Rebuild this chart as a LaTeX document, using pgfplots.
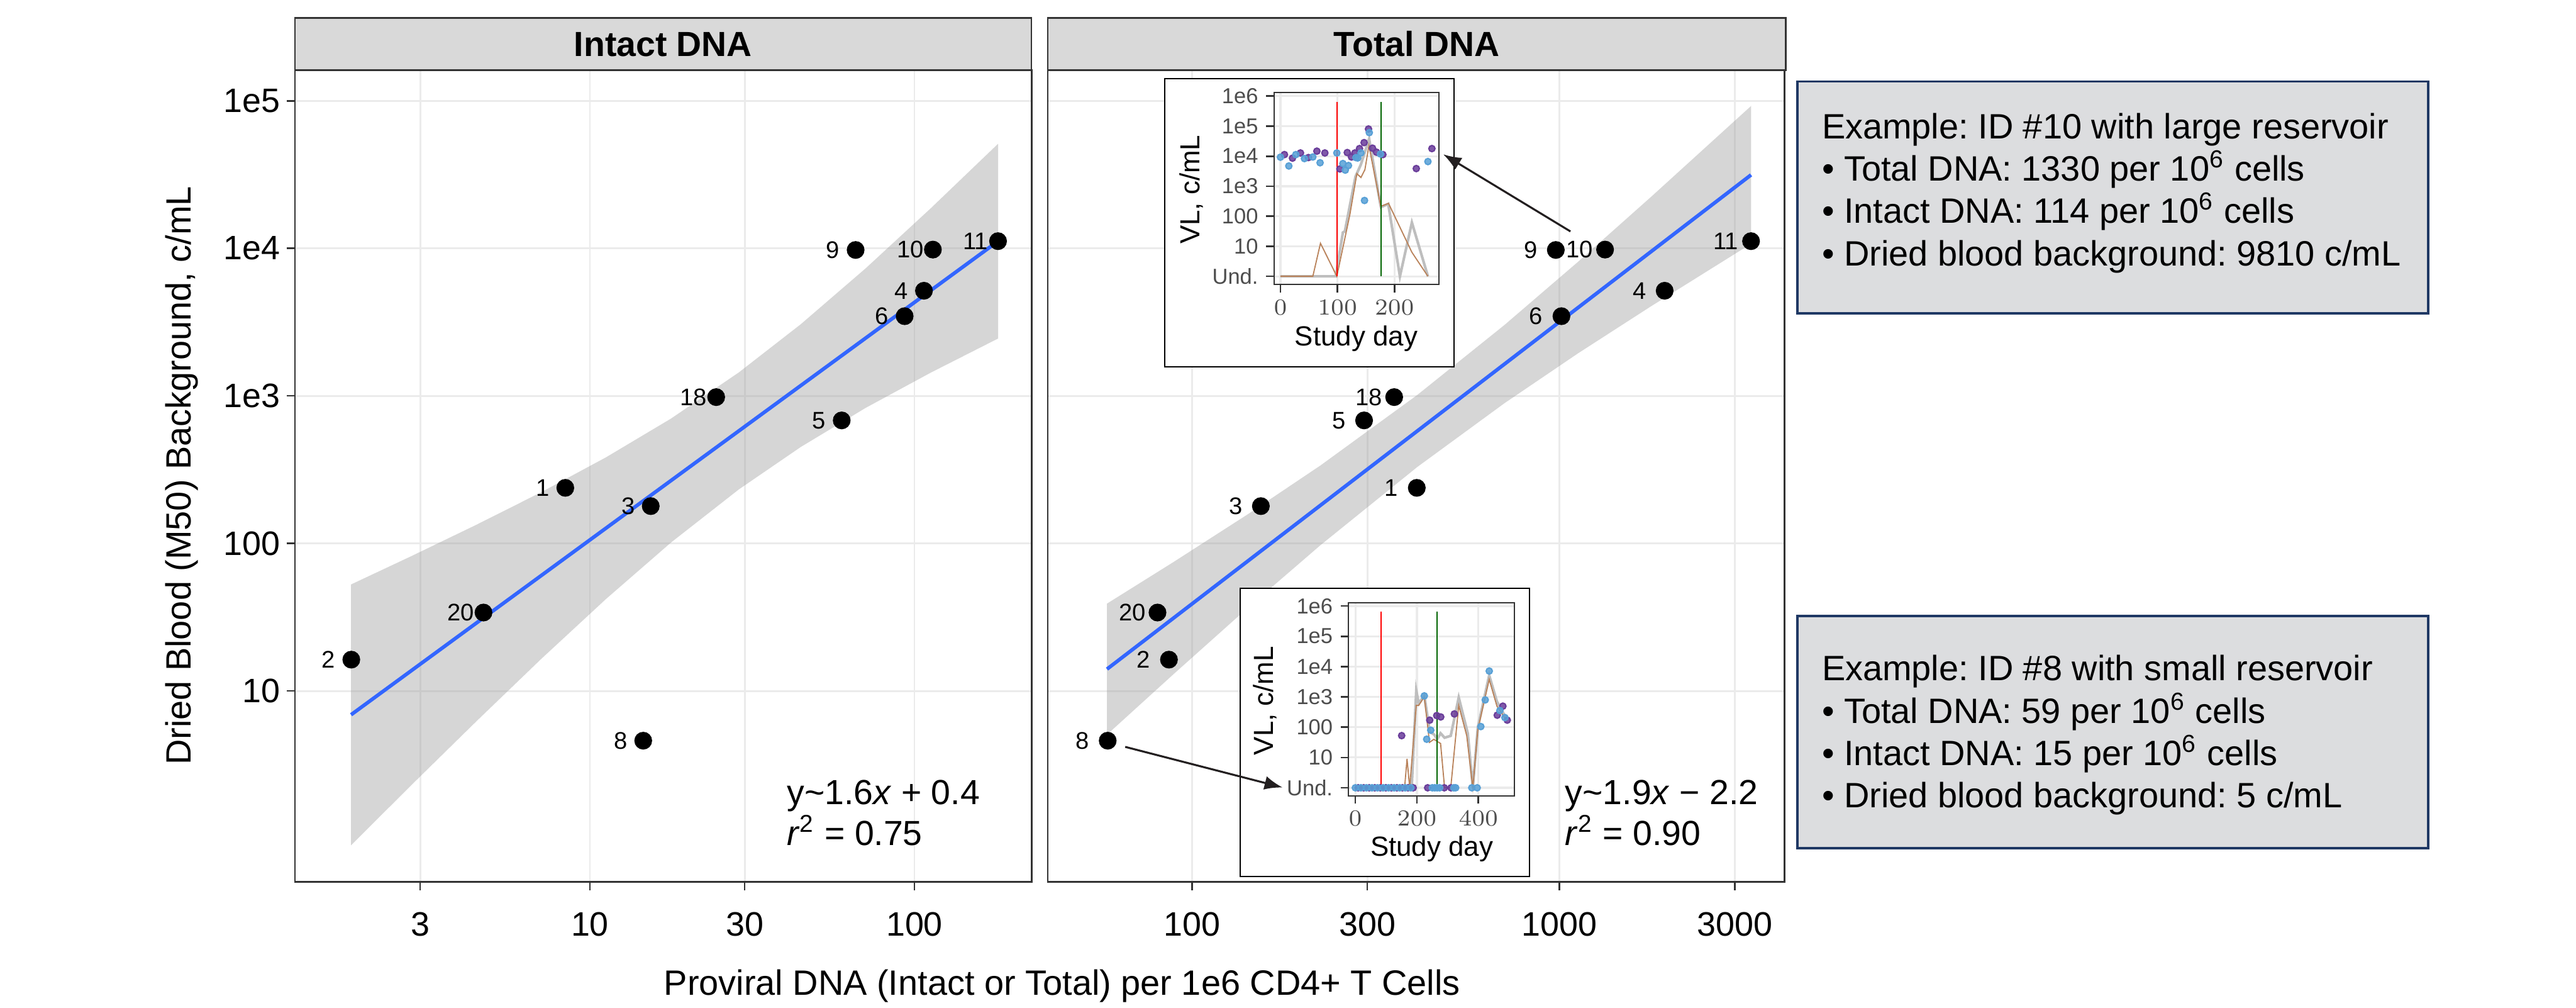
\documentclass[border=0pt]{standalone}
\usepackage{fontspec}
\setmainfont{Liberation Sans}
\usepackage{pgfplots}
\usepackage{pgfplotstable}
\pgfplotsset{compat=1.18}
\usetikzlibrary{arrows.meta}

\definecolor{gridc}{RGB}{235,235,235}
\definecolor{framec}{RGB}{51,51,51}
\definecolor{stripc}{RGB}{217,217,217}
\definecolor{bandc}{RGB}{153,153,153}
\definecolor{fitc}{RGB}{51,102,255}
\definecolor{boxfill}{RGB}{220,221,223}
\definecolor{boxline}{RGB}{31,56,100}
\definecolor{vlblue}{RGB}{88,160,214}
\definecolor{vlpurple}{RGB}{106,61,154}
\definecolor{vlbrown}{RGB}{185,130,90}
\definecolor{vlgray}{RGB}{190,190,190}
\definecolor{darkgreen}{RGB}{0,100,0}
\definecolor{tickc}{RGB}{77,77,77}
\definecolor{arrowc}{RGB}{35,31,32}

% points: proviral DNA vs dried blood background
\pgfplotstableread{
x y id
1.84 16.3 2
4.70 34.0 20
8.40 238 1
15.4 179 3
14.6 4.6 8
24.5 981 18
59.7 682 5
65.9 9750 9
114 9810 10
107 5160 4
93.3 3470 6
181 11190 11
}\intact

\pgfplotstableread{
x y id
59 4.6 8
80.6 34.0 20
86.6 16.3 2
154 179 3
294 682 5
355 981 18
409 238 1
977 9750 9
1330 9810 10
1012 3470 6
1932 5160 4
3319 11190 11
}\total

% confidence bands (upper edge, then lower edge back)
\pgfplotstableread{
x y
1.837 52.7
2.818 82.0
4.467 133.7
7.079 222.3
11.22 383.7
17.78 701.5
28.77 1442
44.67 3062
70.79 7328
112.2 18660
181.1 51170
181.1 2449
112.2 1436
70.79 829.8
44.67 450.8
28.77 232.3
17.78 101.4
11.22 42.07
7.079 16.48
4.467 6.22
2.818 2.301
1.837 0.899
}\bandI

\pgfplotstableread{
x y
58.75 39.08
89.13 74.82
141.3 156.5
223.9 338.1
410.2 1014
707.9 3020
1122 8091
1778 22440
3319 92250
3319 10740
1778 4064
1122 1941
707.9 891.3
410.2 329.6
223.9 97.5
141.3 36.27
89.13 13.00
58.75 5.058
}\bandT

% inset: ID 10
\pgfplotstableread{
x y
0 1
97 1
109.5 28.8
113 31.6
131.6 2090
141 5250
155.5 38000
176 200
189 257
209.5 1
230.5 61.7
258.6 1
}\aGray
\pgfplotstableread{
x y
0 1
56.8 1
70.2 12.6
98.9 1
121.8 115
134 2630
141.1 1950
148.1 3550
155.1 22400
176 214
189.5 269
230.5 6.3
258.6 1
}\aBrown
\pgfplotstableread{
x y
7.0 11300
21.1 8600
35.1 12800
49.1 9000
63.9 14700
77.9 12800
104.2 3760
117.2 13200
124.6 9400
130.5 12800
138.6 17900
146.7 28300
154.4 80200
161.4 18500
168.4 13600
179.6 11300
238.2 3870
265.6 17900
}\aPurple
\pgfplotstableread{
x y
0 9270
14.7 4720
27.0 11300
42.1 8320
56.8 9400
69.5 6040
98.9 12800
109.5 5680
113.7 3430
119.3 4880
132.3 8970
135.5 8710
141.1 12800
147.4 335
155.8 60800
175.4 11800
258.6 6620
}\aBlue

% inset: ID 8
\pgfplotstableread{
x y
0 1
183 1
198 1620
205.9 603
224.1 1120
241.7 70.8
257 56.2
266 40
277 63
290 45
310 52
336 955
365.5 61.7
381.8 1
398 97.7
435 5130
460 708
492.5 178
}\bGray
\pgfplotstableread{
x y
0 1
160 1
168 9.1
176.5 1
198 525
206 525
224 1000
241 31.6
255 39.8
277 29
290 1
310 1
336 525
362 52.5
381.8 1
398 83
435 3800
460 500
492.5 158
}\bBrown
\pgfplotstableread{
x y
9 1
27 1
45 1
63 1
81 1
99 1
117 1
135 1
153 1
171 1
188 1
235 1
289 1
311 1
150.5 52.7
241.7 171
264.5 242
277.5 218
321.8 274
461.2 249
479.5 495
493.8 171
}\bPurple
\pgfplotstableread{
x y
0 1
18 1
36 1
54 1
72 1
90 1
108 1
126 1
144 1
162 1
180 1
250 1
258 1
266 1
274 1
320 1
326 1
378.5 1
396 1
224.1 1080
231.9 40.1
245.0 79.6
407.8 105
422.1 796
435.2 7140
469.7 355
486.0 208
}\bBlue

\begin{document}
\frenchspacing
\begin{tikzpicture}

% Intact DNA panel
\begin{axis}[at={(89.75pt,-268.3pt)}, anchor=south west,
  scale only axis, width=224.2pt, height=247pt,
  xmode=log, ymode=log, ymin=0.507, ymax=161800,
  xmin=1.233, xmax=229.6,
  axis line style={framec, line width=0.5pt},
  grid=major, grid style={gridc, line width=0.55pt},
  tick align=outside, major tick length=2.5pt,
  tick style={framec, line width=0.5pt},
  minor tick num=0, minor tick style={draw=none},
  xtick pos=left, ytick pos=left,
  xtick={3,10,30,100}, xticklabels={3,10,30,100},
  ytick={10,100,1000,10000,100000}, yticklabels={10,100,1e3,1e4,1e5},
  tick label style={font=\fontsize{10.3}{12}\selectfont, text=black, inner sep=0pt},
  xticklabel style={yshift=-6.5pt},
  yticklabel style={xshift=-1.8pt}]
\addplot[draw=none, fill=bandc, fill opacity=0.4] table {\bandI};
\addplot[fitc, line width=1.1pt] coordinates {(1.837,6.895) (181.1,11194)};
\addplot[only marks, mark=*, mark size=2.5pt, black,
  nodes near coords, point meta=explicit symbolic,
  every node near coord/.append style={anchor=center, inner sep=0pt, xshift=-6.9pt,
    font=\fontsize{7.3}{8}\selectfont, text=black}]
  table[meta=id] {\intact};
\end{axis}

% Total DNA panel
\begin{axis}[at={(318.9pt,-268.3pt)}, anchor=south west,
  scale only axis, width=224.2pt, height=247pt,
  xmode=log, ymode=log, ymin=0.507, ymax=161800,
  xmin=40.55, xmax=4093,
  axis line style={framec, line width=0.5pt},
  grid=major, grid style={gridc, line width=0.55pt},
  tick align=outside, major tick length=2.5pt,
  tick style={framec, line width=0.5pt},
  minor tick num=0, minor tick style={draw=none},
  xtick pos=left, ytick pos=left,
  xtick={100,300,1000,3000}, xticklabels={100,300,1000,3000},
  ytick={10,100,1000,10000,100000}, yticklabels={},
  ytick style={draw=none},
  tick label style={font=\fontsize{10.3}{12}\selectfont, text=black, inner sep=0pt},
  xticklabel style={yshift=-6.5pt}]
\addplot[draw=none, fill=bandc, fill opacity=0.4] table {\bandT};
\addplot[fitc, line width=1.1pt] coordinates {(58.75,14.06) (3319,31480)};
\addplot[only marks, mark=*, mark size=2.5pt, black,
  nodes near coords, point meta=explicit symbolic,
  every node near coord/.append style={anchor=center, inner sep=0pt, xshift=-7.7pt,
    font=\fontsize{7.3}{8}\selectfont, text=black}]
  table[meta=id] {\total};
\end{axis}

\begin{scope}[x=0.5pt, y=-0.5pt]
% facet strips
\draw[framec, line width=0.5pt, fill=stripc] (179.5,11) rectangle (627.8,42.6);
\draw[framec, line width=0.5pt, fill=stripc] (637.8,11) rectangle (1086.9,42.6);
\node[anchor=base, font=\fontsize{10.6}{12}\selectfont\bfseries] at (403.6,34.4) {Intact DNA};
\node[anchor=base, font=\fontsize{10.6}{12}\selectfont\bfseries] at (862.3,34.4) {Total DNA};

% axis titles
\node[rotate=90, anchor=base, font=\fontsize{10.7}{12}\selectfont] at (116.2,289.4) {Dried Blood (M50) Background, c/mL};
\node[anchor=base, font=\fontsize{10.7}{12}\selectfont] at (646.5,605.4) {Proviral DNA (Intact or Total) per 1e6 CD4+ T Cells};

% fit equations
\node[anchor=base west, font=\fontsize{10.6}{12}\selectfont] at (472,489.6) {y\textasciitilde 1.6\textit{x} + 0.4};
\node[anchor=base west, font=\fontsize{10.6}{12}\selectfont] at (472,514.3) {\textit{r}\textsuperscript{2} = 0.75};
\node[anchor=base west, font=\fontsize{10.6}{12}\selectfont] at (945.7,489.6) {y\textasciitilde 1.9\textit{x} − 2.2};
\node[anchor=base west, font=\fontsize{10.6}{12}\selectfont] at (945.7,514.3) {\textit{r}\textsuperscript{2} = 0.90};

% inset frames
\draw[black, line width=0.4pt, fill=white] (709.1,47.7) rectangle (885.1,223.3);
\draw[black, line width=0.4pt, fill=white] (754.9,357.8) rectangle (930.9,533.4);
\end{scope}

% inset: ID 10
\begin{axis}[at={(387.7pt,-86.6pt)}, anchor=south west,
  scale only axis, width=50.25pt, height=58.4pt,
  ymode=log, xmin=-11.5, xmax=278, ymin=0.527, ymax=1300000,
  axis line style={framec, line width=0.4pt},
  grid=major, grid style={gridc, line width=0.6pt},
  tick align=outside, major tick length=2.4pt,
  tick style={framec, line width=0.5pt},
  minor tick num=0, minor tick style={draw=none},
  xtick pos=left, ytick pos=left,
  xtick={0,100,200},
  ytick={1,10,100,1000,10000,100000,1000000},
  yticklabels={Und.,10,100,1e3,1e4,1e5,1e6},
  tick label style={font=\fontsize{6.6}{7}\selectfont, text=tickc, inner sep=0pt},
  xticklabel style={yshift=-2.1pt},
  yticklabel style={xshift=-2.2pt}]
\addplot[vlgray, line width=0.8pt] table {\aGray};
\addplot[vlbrown, line width=0.35pt] table {\aBrown};
\addplot[only marks, mark=*, mark size=0.95pt, vlpurple, mark options={draw=none, fill opacity=0.85}] table {\aPurple};
\addplot[only marks, mark=*, mark size=0.95pt, vlblue, mark options={draw=none, fill opacity=0.85}] table {\aBlue};
\addplot[red, line width=0.35pt] coordinates {(99,1) (99,646000)};
\addplot[darkgreen, line width=0.35pt] coordinates {(176.5,1) (176.5,646000)};
\end{axis}

% inset: ID 8
\begin{axis}[at={(410.4pt,-242.1pt)}, anchor=south west,
  scale only axis, width=50.5pt, height=58.65pt,
  ymode=log, xmin=-22.4, xmax=517, ymin=0.542, ymax=1253000,
  axis line style={framec, line width=0.4pt},
  grid=major, grid style={gridc, line width=0.6pt},
  tick align=outside, major tick length=2.4pt,
  tick style={framec, line width=0.5pt},
  minor tick num=0, minor tick style={draw=none},
  xtick pos=left, ytick pos=left,
  xtick={0,200,400},
  ytick={1,10,100,1000,10000,100000,1000000},
  yticklabels={Und.,10,100,1e3,1e4,1e5,1e6},
  tick label style={font=\fontsize{6.6}{7}\selectfont, text=tickc, inner sep=0pt},
  xticklabel style={yshift=-2.1pt},
  yticklabel style={xshift=-2.2pt}]
\addplot[vlgray, line width=0.8pt] table {\bGray};
\addplot[vlbrown, line width=0.35pt] table {\bBrown};
\addplot[only marks, mark=*, mark size=0.95pt, vlpurple, mark options={draw=none, fill opacity=0.85}] table {\bPurple};
\addplot[only marks, mark=*, mark size=0.95pt, vlblue, mark options={draw=none, fill opacity=0.85}] table {\bBlue};
\addplot[red, line width=0.35pt] coordinates {(84,1) (84,646000)};
\addplot[darkgreen, line width=0.35pt] coordinates {(266,1) (266,646000)};
\end{axis}

\begin{scope}[x=0.5pt, y=-0.5pt]
\node[rotate=90, font=\fontsize{8.4}{10}\selectfont] at (725.1,115.3) {VL, c/mL};
\node[font=\fontsize{8.4}{10}\selectfont] at (825.5,206.1) {Study day};
\node[rotate=90, font=\fontsize{8.4}{10}\selectfont] at (770,426.3) {VL, c/mL};
\node[font=\fontsize{8.4}{10}\selectfont] at (871.5,516.5) {Study day};

% arrows to insets
\draw[arrowc, line width=0.6pt, -{Latex[length=5.5pt, width=4.2pt]}] (955.9,140.8) -- (878.5,93.9);
\draw[arrowc, line width=0.6pt, -{Latex[length=5.5pt, width=4.2pt]}] (684.9,454.4) -- (780.7,479.1);

% example boxes
\draw[boxline, line width=0.7pt, fill=boxfill] (1094,49.6) rectangle (1478,190.6);
\draw[boxline, line width=0.7pt, fill=boxfill] (1094,374.8) rectangle (1478,516.1);
\begin{scope}[every node/.style={anchor=base west, inner sep=0pt, font=\fontsize{10.7}{12}\selectfont}]
\node at (1108.6,84.3) {Example: ID \#10 with large reservoir};
\node at (1108.6,109.9) {• Total DNA: 1330 per 10\textsuperscript{6} cells};
\node at (1108.6,135.8) {• Intact DNA: 114 per 10\textsuperscript{6} cells};
\node at (1108.6,161.6) {• Dried blood background: 9810 c/mL};
\node at (1108.6,413.9) {Example: ID \#8 with small reservoir};
\node at (1108.6,440.1) {• Total DNA: 59 per 10\textsuperscript{6} cells};
\node at (1108.6,465.6) {• Intact DNA: 15 per 10\textsuperscript{6} cells};
\node at (1108.6,491.5) {• Dried blood background: 5 c/mL};
\end{scope}

\pgfresetboundingbox
\useasboundingbox (0,0) rectangle (1568,613);
\end{scope}
\end{tikzpicture}
\end{document}
